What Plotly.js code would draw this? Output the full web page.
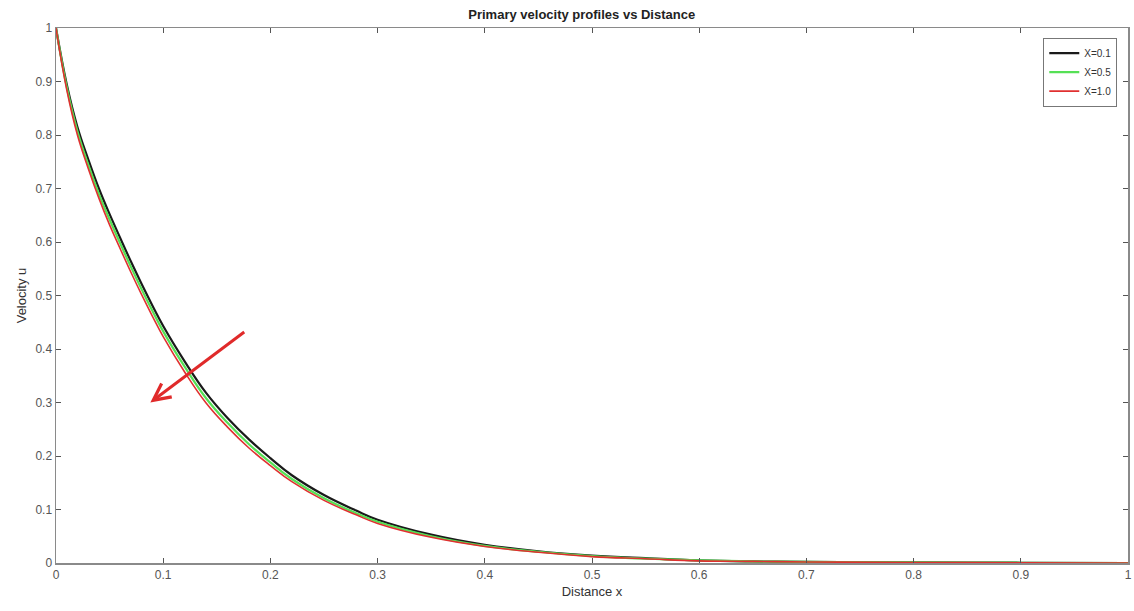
<!DOCTYPE html>
<html>
<head>
<meta charset="utf-8">
<script src="https://cdn.plot.ly/plotly-3.0.1.min.js"></script>
<style>html,body{margin:0;padding:0;background:#fff;}#chart{width:1134px;height:611px;}</style>
</head>
<body>
<div id="chart"></div>
<script>
// Distance x
const xVals = [0, 0.01, 0.02, 0.03, 0.04, 0.05, 0.06, 0.07, 0.08, 0.09, 0.10, 0.12, 0.14, 0.16, 0.18, 0.20, 0.22, 0.25, 0.28, 0.30, 0.35, 0.40, 0.45, 0.50, 0.55, 0.60, 0.65, 0.70, 0.80, 0.90, 1.00];
// Velocity u for each X
const uX01 = [1, 0.895, 0.815, 0.755, 0.70, 0.652, 0.607, 0.563, 0.521, 0.481, 0.443, 0.377, 0.318, 0.271, 0.231, 0.196, 0.164, 0.127, 0.098, 0.081, 0.053, 0.034, 0.022, 0.014, 0.009, 0.005, 0.003, 0.002, 0.001, 0.0005, 0];
const uX05 = [1, 0.89, 0.807, 0.745, 0.69, 0.642, 0.597, 0.553, 0.511, 0.471, 0.433, 0.367, 0.308, 0.262, 0.222, 0.188, 0.157, 0.121, 0.093, 0.077, 0.050, 0.032, 0.021, 0.013, 0.008, 0.005, 0.003, 0.002, 0.001, 0.0005, 0];
const uX10 = [1, 0.885, 0.80, 0.738, 0.682, 0.632, 0.587, 0.543, 0.501, 0.461, 0.423, 0.357, 0.299, 0.254, 0.215, 0.182, 0.152, 0.117, 0.090, 0.074, 0.048, 0.031, 0.020, 0.012, 0.008, 0.004, 0.003, 0.002, 0.001, 0.0005, 0];
const seriesNames = ['X=0.1', 'X=0.5', 'X=1.0'];
const seriesColors = ['#1a1a1a', '#55e055', '#e03030'];
const seriesData = [uX01, uX05, uX10];
const xTicks = [0, 0.1, 0.2, 0.3, 0.4, 0.5, 0.6, 0.7, 0.8, 0.9, 1];
const xTickText = ['0', '0.1', '0.2', '0.3', '0.4', '0.5', '0.6', '0.7', '0.8', '0.9', '1'];

const widths = [2.2, 2.2, 1.6];
const traces = seriesData.map((u, i) => ({
  x: xVals, y: u, type: 'scatter', mode: 'lines', name: seriesNames[i],
  line: {color: seriesColors[i], width: widths[i], shape: 'spline', smoothing: 1.2}
}));

const axisCommon = {
  showgrid: false, zeroline: false, showline: true, linecolor: '#8a8a8a', linewidth: 1.5,
  mirror: 'ticks', ticks: 'inside', ticklen: 5, tickcolor: '#555', tickwidth: 1,
  tickfont: {family: 'Liberation Sans, Arial, sans-serif', size: 12, color: '#555'}
};

const layout = {
  width: 1134, height: 611,
  margin: {l: 56, r: 6, t: 28, b: 48},
  paper_bgcolor: '#fff', plot_bgcolor: '#fff',
  title: {text: '<b>Primary velocity profiles vs Distance</b>', x: 0.513, xanchor: 'center', y: 0.977, yanchor: 'middle',
          font: {family: 'Liberation Sans, Arial, sans-serif', size: 13, color: '#222'}},
  xaxis: Object.assign({}, axisCommon, {range: [0, 1], tickvals: xTicks, ticktext: xTickText,
    title: {text: 'Distance x', standoff: 6, font: {family: 'Liberation Sans, Arial, sans-serif', size: 13, color: '#333'}}}),
  yaxis: Object.assign({}, axisCommon, {range: [0, 1], tickvals: xTicks, ticktext: xTickText,
    title: {text: 'Velocity u', standoff: 6, font: {family: 'Liberation Sans, Arial, sans-serif', size: 13, color: '#333'}}}),
  legend: {x: 0.99, xanchor: 'right', y: 0.982, yanchor: 'top', bgcolor: '#fff', bordercolor: '#777', borderwidth: 1,
           font: {family: 'Liberation Sans, Arial, sans-serif', size: 10, color: '#333'}, tracegroupgap: 0, itemwidth: 30},
  annotations: [{
    x: 0.088, y: 0.30, ax: 0.177, ay: 0.434, xref: 'x', yref: 'y', axref: 'x', ayref: 'y',
    showarrow: true, arrowhead: 5, arrowsize: 1.1, arrowwidth: 3, arrowcolor: '#e02a2a', text: ''
  }]
};

Plotly.newPlot('chart', traces, layout, {displayModeBar: false, staticPlot: true});
</script>
</body>
</html>
